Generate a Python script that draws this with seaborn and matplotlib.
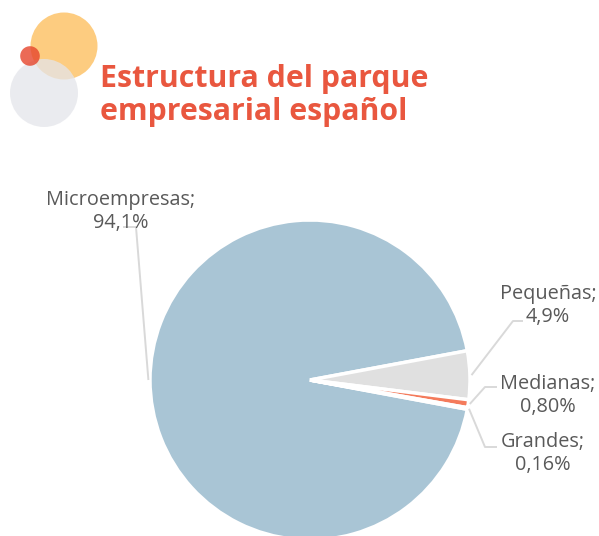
import matplotlib
matplotlib.use("Agg")
import matplotlib.pyplot as plt
import seaborn as sns
import numpy as np
from matplotlib.patches import Circle

# ==========================
# DATA
# ==========================

categories = ["Microempresas", "Pequeñas", "Medianas", "Grandes"]
shares = [94.1, 4.9, 0.80, 0.16]
share_labels = ["94,1%", "4,9%", "0,80%", "0,16%"]
colors = ["#A9C5D5", "#E0E0E0", "#F47B5C", "#B0B0B0"]

title = "Estructura del parque\nempresarial español"

# ==========================
# STYLE
# ==========================

sns.set_theme(style="white")
plt.rcParams["font.family"] = ["Open Sans", "DejaVu Sans"]

W, H = 599, 536
fig = plt.figure(figsize=(W / 100, H / 100), dpi=100)
ax = fig.add_axes([0, 0, 1, 1])

# ==========================
# PIE
# ==========================

center = (310, 380)
radius = 160
total = sum(shares)
others = total - shares[0]
# y axis is flipped below, so counterclock in data = clockwise on screen
start = 360 * others / total / 2

wedges, _ = ax.pie(shares, colors=colors, startangle=start, counterclock=True,
                   center=center, radius=radius, frame=True,
                   wedgeprops=dict(edgecolor="white", linewidth=2.5))
ax.set_xlim(0, W)
ax.set_ylim(H, 0)
ax.set_aspect("equal")
ax.axis("off")

# ==========================
# DECORATION + TITLE
# ==========================

ax.add_patch(Circle((64, 46), 33.5, color="#FDC36A", alpha=0.85, lw=0, zorder=1))
ax.add_patch(Circle((44, 93), 34, color="#E4E5EA", alpha=0.75, lw=0, zorder=2))
ax.add_patch(Circle((30, 56), 9.8, color="#E6452C", alpha=0.8, lw=0, zorder=3))

ax.text(100, 120, title, color="#E9573F", fontsize=21.8, fontweight="bold",
        ha="left", va="baseline", linespacing=1.12, zorder=4)

# ==========================
# LABELS + LEADER LINES
# ==========================

# elbow point, line end and label anchor for each slice (layout only)
elbows = [(136, 227), (513, 321), (485, 387), (485, 447)]
ends = [(123, 227), (523, 321), (497, 387), (497, 447)]
label_pos = [(121, 228), (548, 322), (548, 412), (543, 470)]

for w, cat, lab, el, en, lp in zip(wedges, categories, share_labels,
                                   elbows, ends, label_pos):
    mid = np.deg2rad((w.theta1 + w.theta2) / 2)
    px = center[0] + radius * 1.01 * np.cos(mid)
    py = center[1] + radius * 1.01 * np.sin(mid)
    ax.plot([px, el[0], en[0]], [py, el[1], en[1]], color="#D9D9D9",
            lw=1.4, solid_capstyle="butt", zorder=5)
    ax.text(lp[0], lp[1], f"{cat};\n{lab}", ha="center", va="baseline",
            fontsize=14.3, color="#595959", fontweight="normal",
            linespacing=1.2, zorder=6)

fig.savefig("out.png", dpi=100)
